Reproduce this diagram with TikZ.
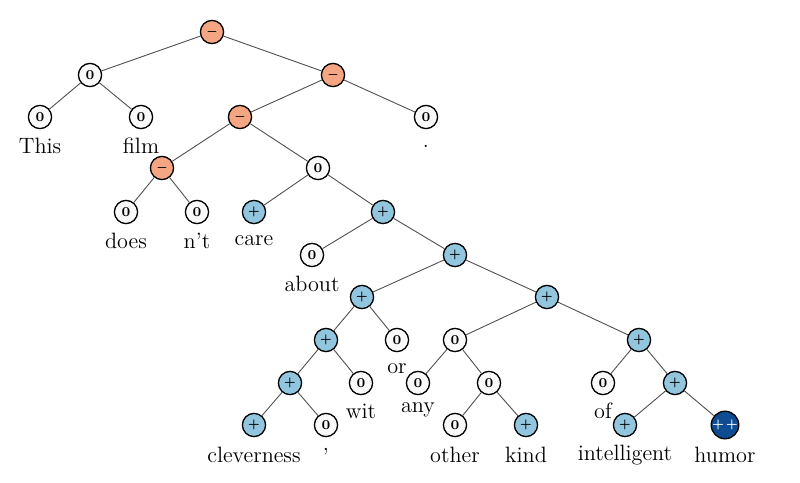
\documentclass[tikz,border=0pt]{standalone}
\usepackage{tikz}
\definecolor{negc}{HTML}{F4A582}
\definecolor{posc}{HTML}{92C5DE}
\definecolor{vposc}{HTML}{0E4C92}
\definecolor{zeroc}{HTML}{F9F9F9}
\definecolor{edgec}{HTML}{505050}
\begin{document}
\begin{tikzpicture}[x=0.5pt,y=-0.5pt,
  sent/.style={circle,draw=black,line width=0.65pt,minimum size=11.6pt,inner sep=0pt,font=\fontsize{5.2}{6}\selectfont\bfseries\boldmath},
  zero/.style={sent,fill=zeroc,font=\fontsize{6.8}{7}\selectfont\bfseries},
  negn/.style={sent,fill=negc},
  posn/.style={sent,fill=posc},
  vposn/.style={sent,fill=vposc,text=white},
  lbl/.style={anchor=base,inner sep=0pt,font=\fontsize{11.1}{13}\selectfont},
  edge/.style={draw=edgec,line width=0.45pt}]
\useasboundingbox (0,0) rectangle (800,483);
% internal and leaf nodes
\node[negn] (r) at (212,32) {$-$};
\node[zero] (a) at (90,75) {0};
\node[negn] (b) at (333,75) {$-$};
\node[zero] (lThis) at (40,117) {0};
\node[zero] (lfilm) at (141,117) {0};
\node[negn] (c) at (240,117) {$-$};
\node[zero] (ldot) at (426,117) {0};
\node[negn] (d) at (162,168) {$-$};
\node[zero] (e) at (318,168) {0};
\node[zero] (ldoes) at (126,212) {0};
\node[zero] (lnt) at (197,212) {0};
\node[posn] (lcare) at (254,212) {+};
\node[posn] (f) at (383,212) {+};
\node[zero] (labout) at (312,255) {0};
\node[posn] (g) at (455,255) {+};
\node[posn] (h) at (362,297) {+};
\node[posn] (i) at (547,297) {+};
\node[posn] (j) at (326,340) {+};
\node[zero] (lor) at (397,340) {0};
\node[zero] (k) at (455,340) {0};
\node[posn] (l) at (639,340) {+};
\node[posn] (m) at (290,383) {+};
\node[zero] (lwit) at (361,383) {0};
\node[zero] (lany) at (418,383) {0};
\node[zero] (n) at (489,383) {0};
\node[zero] (lof) at (603,383) {0};
\node[posn] (o) at (675,383) {+};
\node[posn] (lclev) at (254,425) {+};
\node[zero] (lcomma) at (326,425) {0};
\node[zero] (lother) at (455,425) {0};
\node[posn] (lkind) at (526,425) {+};
\node[posn] (lintel) at (625,425) {+};
\node[vposn] (lhumor) at (725,425) {+\hspace{0.8pt}+};
% edges
\foreach \p/\q in {r/a,r/b,a/lThis,a/lfilm,b/c,b/ldot,c/d,c/e,d/ldoes,d/lnt,
  e/lcare,e/f,f/labout,f/g,g/h,g/i,h/j,h/lor,j/m,j/lwit,m/lclev,m/lcomma,
  i/k,i/l,k/lany,k/n,n/lother,n/lkind,l/lof,l/o,o/lintel,o/lhumor}
  \draw[edge] (\p) -- (\q);
% word labels
\node[lbl] (tThis) at (40,153) {This};
\node[lbl] (tfilm) at (141,153) {film};
\node[lbl] (tdot) at (426,147) {.};
\node[lbl] (tdoes) at (126,248) {does};
\node[lbl] (tnt) at (197,248) {n't};
\node[lbl] (tcare) at (254,245) {care};
\node[lbl] (tabout) at (312,291) {about};
\node[lbl] (tor) at (397,373) {or};
\node[lbl] (twit) at (361,418) {wit};
\node[lbl] (tany) at (418,412) {any};
\node[lbl] (tof) at (603,418) {of};
\node[lbl] (tclev) at (254,462) {cleverness};
\node[lbl] (tcomma) at (326,450) {,};
\node[lbl] (tother) at (455,462) {other};
\node[lbl] (tkind) at (526,462) {kind};
\node[lbl] (tintel) at (625,460) {intelligent};
\node[lbl] (thumor) at (725,462) {humor};
\end{tikzpicture}
\end{document}
